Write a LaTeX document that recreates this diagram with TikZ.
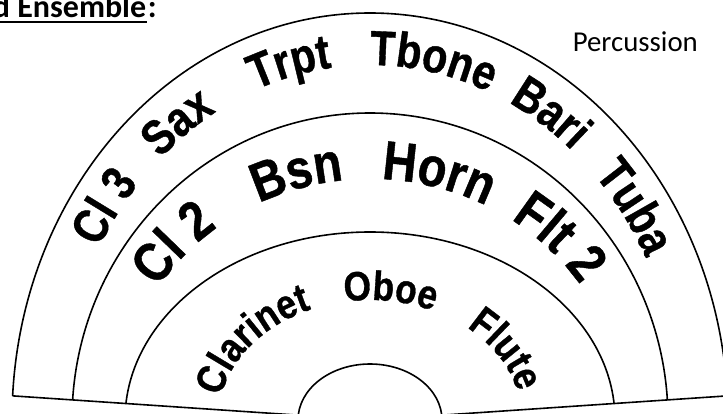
\documentclass[tikz,border=0pt]{standalone}
\usepackage{fontspec}
\setmainfont{Carlito}
\newfontfamily\outerfam{Liberation Sans}[FakeStretch=0.84, FakeBold=0.8]
\newfontfamily\middlefam{Liberation Sans}[FakeStretch=0.85, FakeBold=0.8]
\newfontfamily\innerfam{Liberation Sans}[FakeStretch=0.86, FakeBold=0.8]
\usetikzlibrary{calc,decorations.text}

\newcommand\outerfont{\outerfam\bfseries\fontsize{49}{49}\selectfont}
\newcommand\middlefont{\middlefam\bfseries\fontsize{55}{55}\selectfont}
\newcommand\innerfont{\innerfam\bfseries\fontsize{41}{41}\selectfont}

\begin{document}
\begin{tikzpicture}[x=1pt, y=1pt, line width=1.6pt,
  ringtext/.style={decorate, decoration={text along path, text align=center, text/.expanded=#1}}]
  \clip (0,0) rectangle (723,413);
  \node[font=\bfseries\fontsize{32}{32}\selectfont, inner sep=0, anchor=base east] (title) at (147,395) {d Ensemble};
  \node[font=\bfseries\fontsize{32}{32}\selectfont, inner sep=0, anchor=base west] (colon) at (title.base east) {:};
  \draw[line width=2.2pt] ([yshift=-4pt]title.base west) -- ([yshift=-4pt]title.base east);
  \node[font=\fontsize{28.8}{28.8}\selectfont, inner sep=0, anchor=base west] (perc) at (572,361) {Percussion};

  \begin{scope}[shift={(370,-7)}]
    \coordinate (C) at (0,0);
    \coordinate (L) at (176.6:358 and 407);
    \coordinate (R) at (3.4:358 and 407);
    \begin{scope}
      \clip (C) -- (-1000,67) -- (-1000,1000) -- (1000,1000) -- (1000,67) -- cycle;
      \draw (C) ellipse [x radius=358, y radius=407];
      \draw (C) ellipse [x radius=298, y radius=307];
      \draw (C) ellipse [x radius=245, y radius=188];
      \draw (C) ellipse [x radius=72, y radius=56];
    \end{scope}
    \draw (L) -- ($(C)!0.2!(L)$);
    \draw (R) -- ($(C)!0.2!(R)$);

    \foreach \word/\ang in {Cl 3/144, Sax/125.5, Trpt/104, Tbone/79, Bari/57, Tuba/36}
      \path[ringtext={|\noexpand\outerfont|\word}] (\ang+25:310 and 355) arc[start angle=\ang+25, end angle=\ang-25, x radius=310, y radius=355];
    \foreach \word/\ang in {Cl 2/137, Bsn/106, Horn/75, Flt 2/45}
      \path[ringtext={|\noexpand\middlefont|\word}] (\ang+25:254 and 241) arc[start angle=\ang+25, end angle=\ang-25, x radius=254, y radius=241];
    \foreach \word/\ang in {Clarinet/142, Oboe/82, Flute/30}
      \path[ringtext={|\noexpand\innerfont|\word}] (\ang+40:152 and 120) arc[start angle=\ang+40, end angle=\ang-40, x radius=152, y radius=120];
  \end{scope}
\end{tikzpicture}
\end{document}
